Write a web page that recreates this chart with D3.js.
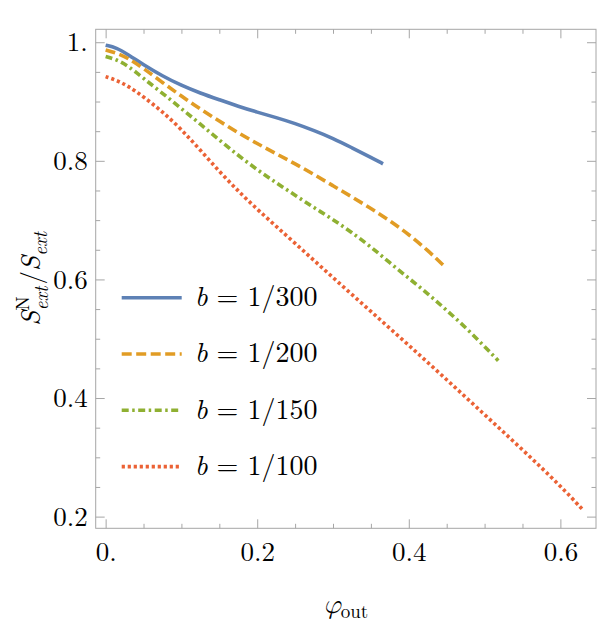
<!DOCTYPE html>
<html>
<head>
<meta charset="utf-8">
<script src="https://cdn.jsdelivr.net/npm/d3@7"></script>
<style>
  body { margin: 0; background: #fff; }
</style>
</head>
<body>
<svg id="chart" width="600" height="623"></svg>
<script>
// Data
var legendLabels = ['1/300', '1/200', '1/150', '1/100'];
var colors = ['#5E81B5', '#E19C24', '#8FB032', '#EB6235'];
var dashes = ['none', '10,4.5', '7,3.5,2.5,3.5', '3.2,2.8'];

var xB300 = [0, 0.014, 0.03, 0.05, 0.075, 0.1, 0.125, 0.15, 0.175, 0.2, 0.225, 0.25, 0.275, 0.3, 0.325, 0.35, 0.366];
var yB300 = [0.995, 0.991, 0.979, 0.962, 0.943, 0.927, 0.914, 0.903, 0.892, 0.882, 0.873, 0.863, 0.851, 0.838, 0.822, 0.806, 0.795];

var xB200 = [0, 0.014, 0.03, 0.05, 0.075, 0.1, 0.125, 0.15, 0.175, 0.2, 0.225, 0.25, 0.275, 0.3, 0.325, 0.35, 0.375, 0.4, 0.425, 0.448];
var yB200 = [0.987, 0.982, 0.973, 0.956, 0.932, 0.909, 0.887, 0.867, 0.847, 0.829, 0.812, 0.795, 0.777, 0.758, 0.739, 0.72, 0.699, 0.676, 0.649, 0.621];

var xB150 = [0, 0.014, 0.03, 0.05, 0.075, 0.1, 0.125, 0.15, 0.175, 0.2, 0.225, 0.25, 0.275, 0.3, 0.325, 0.35, 0.375, 0.4, 0.425, 0.45, 0.475, 0.5, 0.518];
var yB150 = [0.976, 0.971, 0.96, 0.939, 0.914, 0.888, 0.862, 0.835, 0.809, 0.785, 0.763, 0.742, 0.721, 0.701, 0.679, 0.655, 0.628, 0.602, 0.576, 0.548, 0.519, 0.487, 0.463];

var xB100 = [0, 0.014, 0.03, 0.05, 0.075, 0.1, 0.125, 0.15, 0.175, 0.2, 0.25, 0.3, 0.35, 0.4, 0.45, 0.5, 0.55, 0.6, 0.63];
var yB100 = [0.942, 0.936, 0.926, 0.908, 0.883, 0.853, 0.818, 0.782, 0.749, 0.718, 0.661, 0.603, 0.546, 0.489, 0.431, 0.372, 0.313, 0.252, 0.211];

var xTicks = [0, 0.2, 0.4, 0.6];
var xTickLabels = ['0.', '0.2', '0.4', '0.6'];
var yTicks = [0.2, 0.4, 0.6, 0.8, 1.0];
var yTickLabels = ['0.2', '0.4', '0.6', '0.8', '1.'];
var xMinor = [0.05, 0.1, 0.15, 0.25, 0.3, 0.35, 0.45, 0.5, 0.55];
var yMinor = [0.25, 0.3, 0.35, 0.45, 0.5, 0.55, 0.65, 0.7, 0.75, 0.85, 0.9, 0.95];

var series = [[xB300, yB300], [xB200, yB200], [xB150, yB150], [xB100, yB100]];

// Define margins
var margin = {top: 29.3, right: 4, bottom: 94.7, left: 95.7},
    width = 600 - margin.left - margin.right,
    height = 623 - margin.top - margin.bottom;

var frameColor = '#a6a6a6';
var fontSize = 27;
var fontFam = '"Latin Modern Roman", "Liberation Serif", serif';
var mathFam = '"Latin Modern Math", "Latin Modern Roman", "DejaVu Serif", serif';

// Define scales
var xScale = d3.scaleLinear().domain([-0.0131, 0.647]).range([0, width]);
var yScale = d3.scaleLinear().domain([0.1803, 1.0218]).range([height, 0]);

var svg = d3.select('#chart')
  .append('g')
  .attr('transform', 'translate(' + margin.left + ',' + margin.top + ')');

// Frame
svg.append('rect')
  .attr('width', width)
  .attr('height', height)
  .attr('fill', 'none')
  .attr('stroke', frameColor)
  .attr('stroke-width', 1);

function styleAxis(g) {
  g.select('.domain').remove();
  g.selectAll('line').attr('stroke', frameColor);
  g.selectAll('text')
    .attr('fill', '#000')
    .style('font-family', fontFam)
    .style('font-size', fontSize + 'px');
}

// Major ticks, all four sides
svg.append('g')
  .attr('transform', 'translate(0,' + height + ')')
  .call(d3.axisBottom(xScale).tickValues(xTicks).tickSize(-9).tickPadding(14)
    .tickFormat(function(d, i) { return xTickLabels[i]; }))
  .call(styleAxis);
svg.append('g')
  .call(d3.axisLeft(yScale).tickValues(yTicks).tickSize(-9).tickPadding(8)
    .tickFormat(function(d, i) { return yTickLabels[i]; }))
  .call(styleAxis);
svg.append('g')
  .call(d3.axisTop(xScale).tickValues(xTicks).tickSize(-9).tickFormat(''))
  .call(styleAxis);
svg.append('g')
  .attr('transform', 'translate(' + width + ',0)')
  .call(d3.axisRight(yScale).tickValues(yTicks).tickSize(-9).tickFormat(''))
  .call(styleAxis);

// Minor ticks
svg.append('g')
  .attr('transform', 'translate(0,' + height + ')')
  .call(d3.axisBottom(xScale).tickValues(xMinor).tickSize(-4.5).tickFormat(''))
  .call(styleAxis);
svg.append('g')
  .call(d3.axisTop(xScale).tickValues(xMinor).tickSize(-4.5).tickFormat(''))
  .call(styleAxis);
svg.append('g')
  .call(d3.axisLeft(yScale).tickValues(yMinor).tickSize(-4.5).tickFormat(''))
  .call(styleAxis);
svg.append('g')
  .attr('transform', 'translate(' + width + ',0)')
  .call(d3.axisRight(yScale).tickValues(yMinor).tickSize(-4.5).tickFormat(''))
  .call(styleAxis);

// Lines
var line = d3.line()
  .curve(d3.curveBasis)
  .x(function(d) { return xScale(d[0]); })
  .y(function(d) { return yScale(d[1]); });

series.forEach(function(s, i) {
  var pts = s[0].map(function(x, j) { return [x, s[1][j]]; });
  svg.append('path')
    .attr('d', line(pts))
    .attr('fill', 'none')
    .attr('stroke', colors[i])
    .attr('stroke-width', 3.6)
    .attr('stroke-dasharray', dashes[i]);
});

// Legend
var legend = svg.append('g').attr('transform', 'translate(26,268.4)');
legendLabels.forEach(function(lab, i) {
  var row = legend.append('g').attr('transform', 'translate(0,' + (i * 56.3) + ')');
  row.append('line')
    .attr('x1', 0).attr('x2', 60)
    .attr('stroke', colors[i])
    .attr('stroke-width', 3.6)
    .attr('stroke-dasharray', dashes[i]);
  var t = row.append('text')
    .attr('x', 73)
    .attr('y', 8.5)
    .style('font-family', fontFam)
    .style('font-size', '28px');
  t.append('tspan').style('font-style', 'italic').text('b');
  t.append('tspan').attr('dx', 9).text('=');
  t.append('tspan').attr('dx', 9).text(lab);
});

// X axis title
var xt = svg.append('text')
  .attr('x', width / 2)
  .attr('y', 584)
  .attr('text-anchor', 'middle')
  .style('font-family', fontFam)
  .style('font-size', fontSize + 'px');
xt.append('tspan').style('font-family', mathFam).style('font-style', 'italic').text('\u03C6');
xt.append('tspan').attr('dy', 5).style('font-size', '19px').text('out');

// Y axis title
var yt = d3.select('#chart').append('g')
  .attr('transform', 'translate(40,' + (margin.top + height / 2) + ') rotate(-90)');
var ytext = yt.append('text')
  .attr('text-anchor', 'middle')
  .style('font-family', fontFam)
  .style('font-size', fontSize + 'px');
ytext.append('tspan').style('font-style', 'italic').text('S');
ytext.append('tspan').attr('dy', -11).style('font-size', '19px').text('N');
ytext.append('tspan').attr('dx', -14).attr('dy', 19).style('font-size', '19px').style('font-style', 'italic').text('ext');
ytext.append('tspan').attr('dy', -8).attr('dx', 2).text('/');
ytext.append('tspan').style('font-style', 'italic').text('S');
ytext.append('tspan').attr('dy', 7).style('font-size', '19px').style('font-style', 'italic').text('ext');
</script>
</body>
</html>
